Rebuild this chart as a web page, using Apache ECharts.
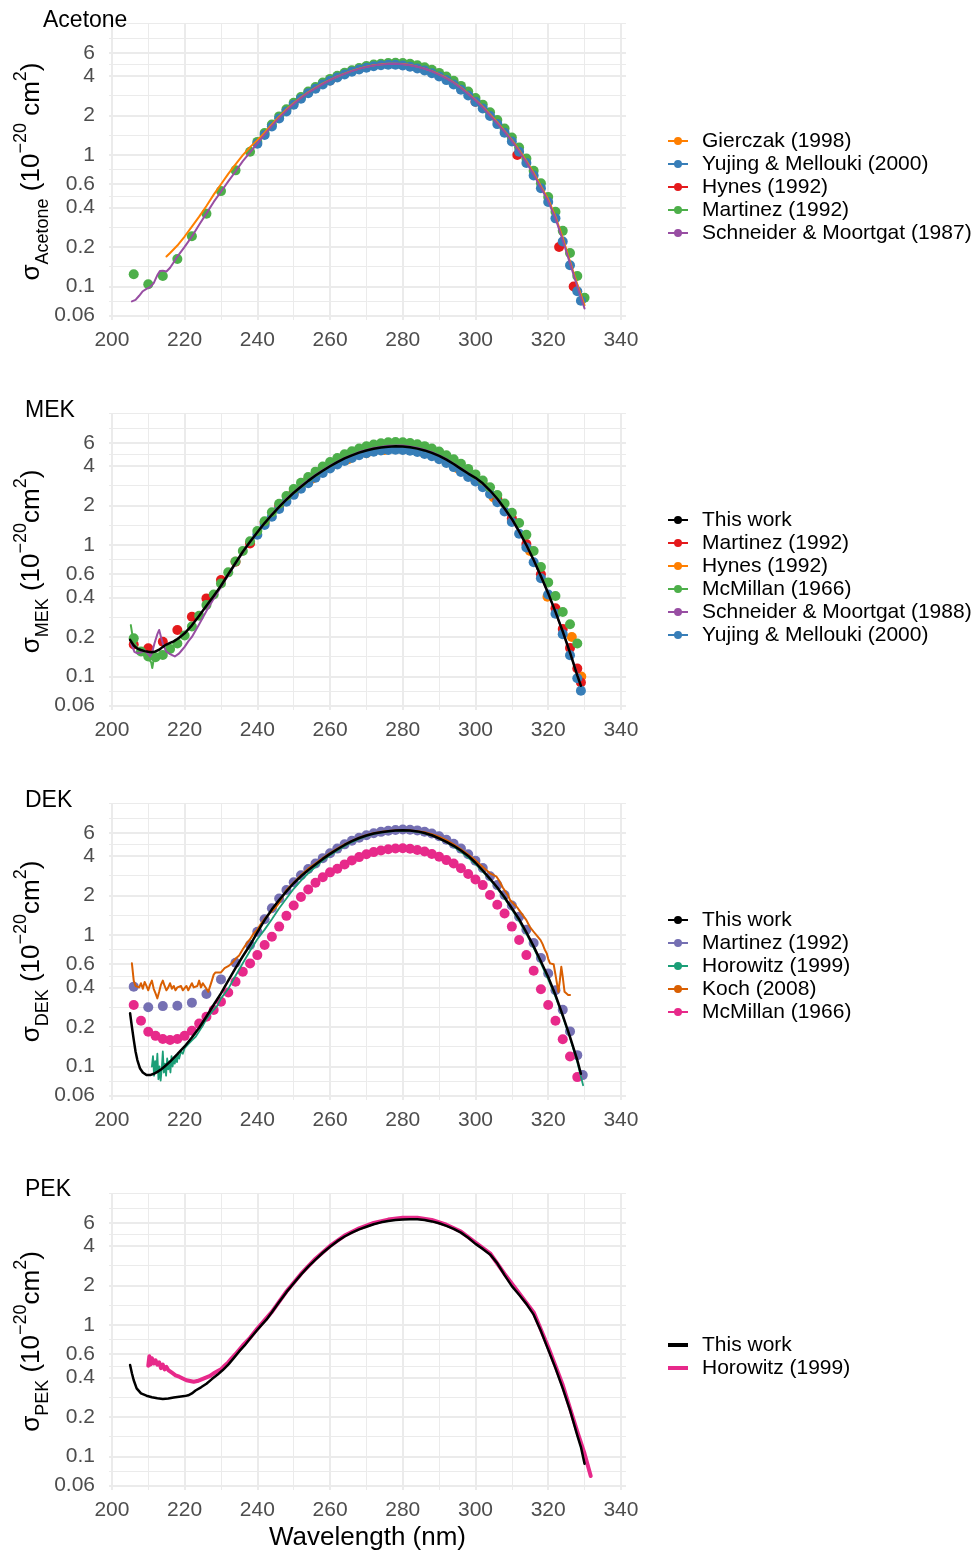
<!DOCTYPE html>
<html><head><meta charset="utf-8">
<script src="https://cdn.jsdelivr.net/npm/echarts@6/dist/echarts.min.js"></script>
<style>html,body{margin:0;padding:0;background:#fff}#c{width:979px;height:1550px}</style>
</head><body><div id="c"></div>
<script>
// ---------- tick labels ----------
const xTicks = [200, 220, 240, 260, 280, 300, 320, 340];
const xMinorTicks = [210, 230, 250, 270, 290, 310, 330];
const yTickVals = [0.06, 0.1, 0.2, 0.4, 0.6, 1, 2, 4, 6];
const yTickLabels = ['0.06', '0.1', '0.2', '0.4', '0.6', '1', '2', '4', '6'];
const panelTitles = ['Acetone', 'MEK', 'DEK', 'PEK'];

// ---------- Acetone ----------
const aceGierczak = [[215,0.169],[216,0.18],[218,0.205],[220,0.24],[222,0.285],[224,0.34],[226,0.41],[228,0.5],[230,0.6],[232,0.72],[234,0.85],[236,1.0],[238,1.15],[240,1.3],[242,1.48],[244,1.71],[246,1.96],[248,2.22],[250,2.48],[252,2.74],[254,3.0],[256,3.25],[258,3.5],[260,3.74],[262,3.96],[264,4.17],[266,4.37],[268,4.55],[270,4.7],[272,4.82],[274,4.9],[276,4.95],[278,4.96],[280,4.93],[282,4.84],[284,4.71],[286,4.55],[288,4.35],[290,4.12],[292,3.86],[294,3.57],[296,3.26],[298,2.94],[300,2.63],[302,2.33],[304,2.04],[306,1.77],[308,1.52],[310,1.3],[312,1.09],[314,0.9],[316,0.73],[318,0.58],[320,0.46],[322,0.34],[324,0.235],[326,0.155],[328,0.104],[330,0.072]];
const aceYujing = [[240,1.22],[242,1.42],[244,1.65],[246,1.9],[248,2.15],[250,2.42],[252,2.68],[254,2.95],[256,3.2],[258,3.45],[260,3.68],[262,3.9],[264,4.1],[266,4.3],[268,4.48],[270,4.62],[272,4.74],[274,4.82],[276,4.86],[278,4.86],[280,4.8],[282,4.7],[284,4.56],[286,4.4],[288,4.2],[290,3.97],[292,3.72],[294,3.44],[296,3.14],[298,2.84],[300,2.54],[302,2.26],[304,1.98],[306,1.72],[308,1.48],[310,1.27],[312,1.06],[314,0.87],[316,0.7],[318,0.56],[320,0.44],[322,0.33],[324,0.22],[326,0.145],[328,0.092],[329,0.078]];
const aceHynes = [[260,3.7],[270,4.7],[280,4.85],[290,4.05],[300,2.55],[311.5,1.0],[323,0.2],[327,0.1]];
const aceMartinez = [[206,0.124],[210,0.104],[214,0.12],[218,0.162],[222,0.241],[226,0.358],[230,0.532],[234,0.765],[238,1.06],[240,1.26],[242,1.47],[244,1.71],[246,1.97],[248,2.23],[250,2.5],[252,2.77],[254,3.05],[256,3.3],[258,3.56],[260,3.8],[262,4.02],[264,4.23],[266,4.42],[268,4.6],[270,4.76],[272,4.88],[274,4.96],[276,5.02],[278,5.04],[280,5.02],[282,4.95],[284,4.82],[286,4.66],[288,4.46],[290,4.22],[292,3.96],[294,3.67],[296,3.36],[298,3.04],[300,2.72],[302,2.42],[304,2.12],[306,1.85],[308,1.59],[310,1.36],[312,1.14],[314,0.94],[316,0.76],[318,0.61],[320,0.48],[322,0.37],[324,0.265],[326,0.18],[328,0.12],[330,0.082]];
const aceSchneider = [[205.5,0.077],[206.5,0.079],[207.5,0.085],[208.5,0.092],[209.5,0.096],[210.5,0.099],[211.5,0.106],[212.5,0.122],[213.2,0.131],[214,0.132],[215,0.13],[216,0.139],[217,0.153],[218,0.169],[220,0.2],[222,0.24],[224,0.295],[226,0.36],[228,0.44],[230,0.526],[232,0.63],[234,0.75],[236,0.9],[238,1.05],[240,1.23],[242,1.43],[244,1.67],[246,1.92],[248,2.18],[250,2.45],[252,2.72],[254,2.98],[256,3.22],[258,3.47],[260,3.72],[262,3.95],[264,4.15],[266,4.35],[268,4.53],[270,4.68],[272,4.8],[274,4.88],[276,4.93],[278,4.95],[280,4.92],[282,4.83],[284,4.7],[286,4.54],[288,4.34],[290,4.1],[292,3.84],[294,3.55],[296,3.24],[298,2.92],[300,2.6],[302,2.3],[304,2.0],[306,1.74],[308,1.5],[310,1.28],[312,1.07],[314,0.88],[316,0.71],[318,0.565],[320,0.445],[322,0.33],[324,0.225],[326,0.15],[328,0.1],[330,0.068]];

// ---------- MEK ----------
const mekThisWork = [[205,0.19],[206,0.172],[207,0.163],[208,0.159],[209,0.156],[210,0.154],[211,0.153],[212,0.155],[213,0.16],[214,0.168],[215,0.175],[216,0.18],[217,0.185],[218,0.193],[219,0.202],[220,0.213],[222,0.245],[224,0.29],[226,0.345],[228,0.41],[230,0.49],[232,0.6],[234,0.73],[236,0.89],[238,1.06],[240,1.25],[242,1.47],[244,1.7],[246,1.95],[248,2.22],[250,2.5],[252,2.78],[254,3.08],[256,3.38],[258,3.68],[260,3.98],[262,4.28],[264,4.56],[266,4.82],[268,5.05],[270,5.25],[272,5.4],[274,5.52],[276,5.6],[278,5.64],[280,5.63],[282,5.55],[284,5.42],[286,5.25],[288,5.03],[290,4.77],[292,4.47],[294,4.14],[296,3.8],[298,3.5],[300,3.25],[302,2.95],[304,2.6],[306,2.25],[308,1.9],[310,1.58],[312,1.27],[314,1.0],[316,0.77],[318,0.58],[320,0.43],[322,0.31],[324,0.22],[326,0.152],[328,0.102],[329,0.085]];
const mekMartinez = [[206,0.175],[210,0.164],[214,0.184],[218,0.226],[222,0.285],[226,0.393],[230,0.542],[234,0.746],[238,1.03],[242,1.48],[246,1.98],[250,2.55],[254,3.15],[258,3.75],[262,4.35],[266,4.9],[270,5.3],[274,5.55],[278,5.65],[282,5.55],[286,5.25],[290,4.75],[294,4.15],[298,3.5],[302,2.9],[306,2.25],[310,1.6],[314,1.02],[318,0.6],[322,0.33],[324,0.23],[326,0.165],[328,0.115],[329,0.09]];
const mekHynes = [[250,2.45],[255,3.2],[260,3.9],[265,4.5],[270,5.0],[275,5.3],[280,5.35],[285,5.15],[290,4.6],[295,3.85],[300,3.1],[305,2.3],[310,1.55],[315,0.9],[319.8,0.405],[326.5,0.2],[329.1,0.1]];
const mekMcMillan = [[206,0.195],[208,0.155],[210,0.142],[212,0.14],[214,0.146],[216,0.162],[218,0.178],[220,0.205],[222,0.24],[224,0.29],[226,0.35],[228,0.42],[230,0.51],[232,0.62],[234,0.75],[236,0.9],[238,1.07],[240,1.28],[242,1.52],[244,1.78],[246,2.06],[248,2.36],[250,2.67],[252,2.98],[254,3.3],[256,3.62],[258,3.96],[260,4.28],[262,4.6],[264,4.9],[266,5.18],[268,5.43],[270,5.65],[272,5.82],[274,5.95],[276,6.05],[278,6.08],[280,6.05],[282,5.97],[284,5.84],[286,5.66],[288,5.43],[290,5.15],[292,4.83],[294,4.5],[296,4.15],[298,3.8],[300,3.45],[302,3.1],[304,2.75],[306,2.4],[308,2.07],[310,1.76],[312,1.47],[314,1.2],[316,0.9],[318,0.68],[320,0.52],[322,0.41],[324,0.31],[326,0.25],[328,0.178]];
const mekMcMillanLine = [[205.2,0.246],[205.6,0.21],[206,0.19],[206.5,0.175],[207,0.165],[207.5,0.158],[208,0.152],[208.5,0.147],[209,0.143],[209.5,0.14],[210,0.137],[210.5,0.134],[210.8,0.128],[211.1,0.116],[211.4,0.13],[211.7,0.138],[212,0.14],[212.5,0.142],[213,0.145],[213.5,0.147],[214,0.15]];
const mekSchneider = [[205.3,0.178],[206.2,0.154],[207,0.15],[208,0.153],[209,0.157],[210,0.148],[210.5,0.142],[211,0.15],[211.7,0.178],[212.5,0.21],[213,0.226],[213.5,0.2],[214,0.178],[214.9,0.155],[216,0.148],[217.3,0.142],[218.5,0.15],[219.1,0.157],[220,0.168],[221,0.185],[222,0.2],[224,0.25],[226,0.315],[228,0.39],[230,0.48],[232,0.59],[234,0.72],[236,0.88],[238,1.05],[240,1.25],[244,1.72],[248,2.25],[252,2.82],[256,3.42],[260,4.03],[264,4.6],[268,5.1],[272,5.48],[276,5.7],[280,5.72],[284,5.5],[288,5.1],[292,4.52],[296,3.83],[300,3.25],[304,2.6],[308,1.88],[312,1.27],[316,0.77],[320,0.43],[324,0.22],[328,0.105],[329,0.085]];
const mekYujing = [[240,1.2],[242,1.42],[244,1.64],[246,1.88],[248,2.14],[250,2.41],[252,2.68],[254,2.96],[256,3.25],[258,3.54],[260,3.83],[262,4.1],[264,4.36],[266,4.6],[268,4.82],[270,5.0],[272,5.14],[274,5.24],[276,5.3],[278,5.32],[280,5.3],[282,5.23],[284,5.1],[286,4.94],[288,4.74],[290,4.5],[292,4.22],[294,3.92],[296,3.6],[298,3.3],[300,3.05],[302,2.75],[304,2.45],[306,2.12],[308,1.8],[310,1.5],[312,1.22],[314,0.96],[316,0.74],[318,0.56],[320,0.42],[322,0.3],[324,0.21],[326,0.145],[328,0.097],[329,0.078]];

// ---------- DEK ----------
const dekThisWork = [[205,0.254],[205.5,0.2],[206,0.16],[206.5,0.13],[207,0.112],[207.7,0.097],[208.5,0.09],[209.5,0.086],[210.5,0.086],[211.5,0.088],[212.5,0.091],[213.5,0.095],[214.5,0.1],[216,0.109],[218,0.124],[220,0.142],[222,0.166],[224,0.197],[226,0.24],[228,0.295],[230,0.36],[232,0.45],[234,0.56],[236,0.69],[238,0.84],[240,1.05],[242,1.3],[244,1.57],[246,1.85],[248,2.15],[250,2.48],[252,2.8],[254,3.12],[256,3.45],[258,3.8],[260,4.15],[262,4.5],[264,4.85],[266,5.18],[268,5.48],[270,5.72],[272,5.92],[274,6.07],[276,6.17],[278,6.24],[280,6.27],[282,6.24],[284,6.15],[286,5.98],[288,5.75],[290,5.45],[292,5.12],[294,4.78],[296,4.4],[298,4.0],[300,3.55],[302,3.1],[304,2.68],[306,2.3],[308,1.94],[310,1.6],[312,1.32],[314,1.05],[316,0.82],[318,0.63],[320,0.48],[322,0.35],[324,0.245],[326,0.168],[328,0.112],[329,0.088]];
const dekMartinez = [[206,0.405],[210,0.282],[214,0.288],[218,0.29],[222,0.306],[226,0.356],[230,0.46],[234,0.616],[238,0.84],[240,1.06],[242,1.32],[244,1.6],[246,1.9],[248,2.2],[250,2.52],[252,2.85],[254,3.18],[256,3.5],[258,3.85],[260,4.2],[262,4.55],[264,4.9],[266,5.22],[268,5.5],[270,5.75],[272,5.95],[274,6.1],[276,6.22],[278,6.3],[280,6.35],[282,6.33],[284,6.26],[286,6.12],[288,5.92],[290,5.65],[292,5.32],[294,4.95],[296,4.55],[298,4.12],[300,3.68],[302,3.24],[304,2.8],[306,2.4],[308,2.02],[310,1.68],[312,1.38],[314,1.1],[316,0.87],[318,0.67],[320,0.51],[322,0.38],[324,0.27],[326,0.185],[328,0.122],[329.5,0.086]];
const dekMcMillan = [[206,0.294],[208,0.223],[210,0.184],[212,0.171],[214,0.162],[216,0.159],[218,0.162],[220,0.171],[222,0.187],[224,0.212],[226,0.239],[228,0.269],[230,0.311],[232,0.366],[234,0.442],[236,0.526],[238,0.609],[240,0.704],[242,0.84],[244,0.97],[246,1.16],[248,1.4],[250,1.68],[252,1.95],[254,2.22],[256,2.5],[258,2.75],[260,3.0],[262,3.2],[264,3.45],[266,3.7],[268,3.92],[270,4.12],[272,4.28],[274,4.4],[276,4.5],[278,4.56],[280,4.58],[282,4.54],[284,4.44],[286,4.32],[288,4.14],[290,3.94],[292,3.72],[294,3.5],[296,3.22],[298,2.92],[300,2.65],[302,2.4],[304,2.02],[306,1.7],[308,1.46],[310,1.16],[312,0.916],[314,0.704],[316,0.536],[318,0.387],[320,0.294],[322,0.223],[324,0.161],[326,0.119],[328,0.083]];
const dekKoch = [[205.5,0.61],[206,0.45],[206.5,0.41],[207,0.42],[207.5,0.4],[208,0.43],[208.5,0.39],[209,0.44],[209.5,0.41],[210,0.38],[210.5,0.42],[211,0.45],[211.5,0.39],[212,0.36],[212.5,0.33],[213,0.37],[213.5,0.42],[214,0.45],[214.5,0.41],[215,0.38],[215.5,0.4],[216,0.43],[216.5,0.39],[217,0.41],[217.5,0.38],[218,0.4],[218.5,0.39],[219,0.41],[219.5,0.38],[220,0.39],[220.5,0.41],[221,0.38],[221.5,0.39],[222,0.43],[222.5,0.4],[223,0.39],[223.5,0.41],[224,0.45],[224.5,0.4],[225,0.43],[225.5,0.41],[226,0.39],[226.5,0.37],[227,0.38],[227.5,0.45],[228,0.5],[228.5,0.52],[229,0.51],[230,0.52],[231,0.56],[232,0.58],[233,0.61],[234,0.66],[235,0.7],[236,0.78],[237,0.86],[238,0.93],[239,1.03],[240,1.1],[241,1.22],[242,1.33],[243,1.42],[244,1.52],[245,1.62],[246,1.76],[248,2.2],[250,2.5],[252,2.85],[254,3.2],[256,3.5],[258,3.85],[260,4.2],[262,4.55],[264,4.9],[266,5.2],[268,5.5],[270,5.75],[272,5.95],[274,6.1],[276,6.2],[278,6.25],[280,6.28],[282,6.25],[284,6.18],[286,6.05],[288,5.85],[290,5.6],[292,5.28],[294,4.9],[296,4.5],[298,4.1],[300,3.7],[302,3.3],[304,2.95],[305.8,2.78],[306.5,2.6],[307.5,2.3],[308,2.25],[309,2.0],[309.5,1.85],[310,1.8],[311,1.68],[311.5,1.62],[312,1.55],[313,1.42],[314,1.3],[314.5,1.22],[315,1.15],[316,1.06],[317,0.98],[317.9,0.916],[318.5,0.85],[319,0.78],[319.6,0.726],[320,0.66],[320.5,0.609],[321,0.61],[321.5,0.6],[322,0.5],[322.8,0.37],[323.2,0.45],[323.6,0.574],[324,0.48],[324.5,0.37],[325,0.36],[325.5,0.35],[326,0.35]];
const dekHorowitz = [[211,0.1],[211.3,0.12],[211.6,0.085],[211.9,0.11],[212.2,0.09],[212.5,0.125],[212.8,0.08],[213.1,0.1],[213.4,0.078],[213.7,0.095],[214,0.13],[214.3,0.09],[214.6,0.105],[214.9,0.085],[215.2,0.115],[215.5,0.095],[215.8,0.11],[216.1,0.09],[216.4,0.12],[216.7,0.1],[217,0.115],[217.3,0.105],[217.6,0.12],[217.9,0.108],[218.2,0.125],[218.5,0.115],[219,0.13],[219.5,0.125],[220,0.138],[220.5,0.135],[221,0.148],[221.5,0.145],[222,0.158],[222.5,0.155],[223,0.168],[224,0.185],[225,0.205],[226,0.23],[227,0.25],[228,0.27],[229,0.29],[230,0.33],[232,0.39],[234,0.49],[236,0.61],[238,0.76],[240,0.93],[242,1.1],[244,1.32],[246,1.6],[248,1.9],[250,2.25],[252,2.6],[254,2.95],[256,3.3],[258,3.7],[260,4.05],[262,4.4],[264,4.75],[266,5.1],[268,5.4],[270,5.66],[272,5.88],[274,6.03],[276,6.13],[278,6.2],[280,6.22],[282,6.2],[284,6.1],[286,5.95],[288,5.72],[290,5.42],[292,5.08],[294,4.7],[296,4.3],[298,3.88],[300,3.46],[302,3.04],[304,2.64],[306,2.26],[308,1.9],[310,1.57],[312,1.28],[314,1.02],[316,0.8],[318,0.61],[320,0.46],[322,0.34],[324,0.24],[326,0.165],[328,0.108],[329.6,0.072]];

// ---------- PEK ----------
const pekThisWork = [[205,0.496],[205.5,0.43],[206,0.38],[206.8,0.33],[208,0.302],[209.5,0.29],[211,0.282],[212.5,0.277],[214,0.274],[215.5,0.276],[217,0.281],[218.5,0.285],[220,0.288],[221,0.292],[222,0.302],[223,0.318],[224.5,0.336],[226,0.358],[227.5,0.388],[229,0.418],[230.5,0.455],[232,0.5],[233.5,0.56],[235,0.63],[236.5,0.7],[238,0.79],[239.5,0.885],[241,0.99],[242.5,1.1],[244,1.25],[246,1.5],[248,1.78],[250,2.08],[252,2.42],[254,2.78],[256,3.15],[258,3.55],[260,3.95],[262,4.35],[264,4.72],[266,5.05],[268,5.35],[270,5.6],[272,5.85],[274,6.05],[276,6.2],[278,6.3],[280,6.37],[282,6.4],[284,6.38],[286,6.3],[288,6.15],[290,5.95],[292,5.68],[294,5.4],[296,5.05],[298,4.62],[300,4.15],[302,3.8],[304,3.45],[306,2.95],[308,2.4],[310,1.98],[312,1.7],[314,1.45],[316,1.2],[318,0.9],[320,0.65],[322,0.47],[324,0.33],[326,0.225],[328,0.145],[329,0.118],[330,0.088]];
const pekHorowitz = [[210,0.49],[210.3,0.58],[210.6,0.5],[211,0.56],[211.5,0.51],[212,0.54],[212.5,0.5],[213,0.52],[213.5,0.47],[214,0.5],[214.5,0.46],[215,0.48],[215.5,0.455],[216,0.45],[216.5,0.435],[217,0.43],[217.5,0.415],[218,0.41],[218.5,0.405],[219,0.4],[219.5,0.392],[220,0.39],[220.5,0.38],[221,0.385],[221.5,0.375],[222,0.38],[222.5,0.37],[223,0.38],[223.5,0.375],[224,0.385],[225,0.39],[226,0.4],[227,0.41],[228,0.43],[229,0.445],[230,0.46],[231,0.49],[232,0.52],[233,0.56],[234,0.6],[236,0.7],[238,0.8],[240,0.94],[244,1.26],[248,1.8],[252,2.45],[256,3.2],[260,4.0],[264,4.8],[268,5.45],[272,5.98],[276,6.35],[280,6.55],[284,6.55],[288,6.3],[292,5.8],[296,5.15],[300,4.25],[304,3.52],[308,2.45],[312,1.75],[316,1.25],[320,0.68],[324,0.35],[328,0.155],[330,0.105],[331.7,0.071]];

// ---------- build ----------
const FONT = 'Liberation Sans';
const XMIN = 199.2, XMAX = 341.4, YMIN = -1.255, YMAX = 1.005;
const DOT = 10;
const yMajorLog = yTickVals.map(v => Math.log10(v));
function minorOf(b, lo, hi) {
  const bd = b[1] - b[0];
  const bb = b.slice();
  if (lo < bb[0]) bb.unshift(bb[0] - bd);
  if (hi > bb[bb.length - 1]) bb.push(bb[bb.length - 1] + bd);
  const out = [];
  for (let i = 0; i < bb.length - 1; i++) out.push((bb[i] + bb[i + 1]) / 2);
  out.push(bb[bb.length - 1]);
  return out.filter(v => v >= lo && v <= hi && !b.some(m => Math.abs(m - v) < 1e-9));
}
const yMinorLog = minorOf(yMajorLog, YMIN, YMAX);
const toLog = d => d.map(p => [p[0], Math.log10(p[1])]);
function yLabel(v) {
  for (let i = 0; i < yMajorLog.length; i++) if (Math.abs(yMajorLog[i] - v) < 1e-6) return yTickLabels[i];
  return '';
}

const panelTop = [23, 413, 803, 1193];
const GRID_H = 297;
const legendTop = [129.5, 508.5, 908.5, 1333.5];
const titleTop = [9, 399, 789, 1178];
const titleLeft = [43, 25, 25, 25];
const subNames = ['Acetone', 'MEK', 'DEK', 'PEK'];
const cmSpace = [' ', '', '', ''];

const series = [];
function lineS(p, name, data, color, width) {
  series.push({ type: 'line', name: p + '|' + name, xAxisIndex: 2 * p, yAxisIndex: 2 * p,
    data: toLog(data), symbol: 'none', showSymbol: false, smooth: false,
    lineStyle: { color, width, cap: 'round', join: 'round' }, itemStyle: { color }, silent: true });
}
function dotS(p, name, data, color) {
  series.push({ type: 'scatter', name: p + '|' + name, xAxisIndex: 2 * p, yAxisIndex: 2 * p,
    data: toLog(data), symbol: 'circle', symbolSize: DOT, itemStyle: { color, opacity: 1 }, silent: true });
}

// Panel 0: Acetone
dotS(0, 'Hynes (1992)', aceHynes, '#E41A1C');
dotS(0, 'Martinez (1992)', aceMartinez, '#4DAF4A');
dotS(0, 'Yujing & Mellouki (2000)', aceYujing, '#377EB8');
lineS(0, 'Gierczak (1998)', aceGierczak, '#FF7F00', 2);
lineS(0, 'Schneider & Moortgat (1987)', aceSchneider, '#984EA3', 2);
// Panel 1: MEK
dotS(1, 'Hynes (1992)', mekHynes, '#FF7F00');
dotS(1, 'Martinez (1992)', mekMartinez, '#E41A1C');
dotS(1, 'Yujing & Mellouki (2000)', mekYujing, '#377EB8');
dotS(1, 'McMillan (1966)', mekMcMillan, '#4DAF4A');
lineS(1, 'McMillan (1966)', mekMcMillanLine, '#4DAF4A', 2);
lineS(1, 'Schneider & Moortgat (1988)', mekSchneider, '#984EA3', 2);
lineS(1, 'This work', mekThisWork, '#000000', 2.5);
// Panel 2: DEK
dotS(2, 'Martinez (1992)', dekMartinez, '#7570B3');
dotS(2, 'McMillan (1966)', dekMcMillan, '#E7298A');
lineS(2, 'Koch (2008)', dekKoch, '#D95F02', 2);
lineS(2, 'Horowitz (1999)', dekHorowitz, '#1B9E77', 1.8);
lineS(2, 'This work', dekThisWork, '#000000', 2.5);
// Panel 3: PEK
lineS(3, 'Horowitz (1999)', pekHorowitz, '#E7298A', 4);
lineS(3, 'This work', pekThisWork, '#000000', 2.5);

const legendNames = [
  ['Gierczak (1998)', 'Yujing & Mellouki (2000)', 'Hynes (1992)', 'Martinez (1992)', 'Schneider & Moortgat (1987)'],
  ['This work', 'Martinez (1992)', 'Hynes (1992)', 'McMillan (1966)', 'Schneider & Moortgat (1988)', 'Yujing & Mellouki (2000)'],
  ['This work', 'Martinez (1992)', 'Horowitz (1999)', 'Koch (2008)', 'McMillan (1966)'],
  ['This work', 'Horowitz (1999)']
];
const ICON_LD = 'path://M0,4L20,4L20,6L0,6Z M14,5A4,4,0,1,1,6,5A4,4,0,1,1,14,5Z';

const grids = [], xAxes = [], yAxes = [], legends = [], titles = [];
for (let p = 0; p < 4; p++) {
  grids.push({ left: 109, width: 517, top: panelTop[p], height: GRID_H, containLabel: false, outerBoundsMode: 'none' });
  xAxes.push({ type: 'value', gridIndex: p, min: XMIN, max: XMAX,
    axisLine: { show: false, onZero: false }, axisTick: { show: false, customValues: xTicks },
    axisLabel: { customValues: xTicks, color: '#4D4D4D', fontSize: 21, fontFamily: FONT, margin: 10 },
    splitLine: { show: true, lineStyle: { color: '#EBEBEB', width: 2 } },
    name: p === 3 ? 'Wavelength (nm)' : '', nameLocation: 'middle', nameGap: 33,
    nameTextStyle: { fontSize: 26, color: '#000', fontFamily: FONT, lineHeight: 30 } });
  xAxes.push({ type: 'value', gridIndex: p, min: XMIN, max: XMAX, position: 'bottom',
    axisLine: { show: false, onZero: false }, axisTick: { show: false, customValues: xMinorTicks },
    axisLabel: { show: false }, splitLine: { show: true, lineStyle: { color: '#EBEBEB', width: 1 } } });
  const nm = '{m|σ}{sub|' + subNames[p] + '}{m| (10}{sup|−20}{m|' + cmSpace[p] + 'cm}{sup|2}{m|)}';
  yAxes.push({ type: 'value', gridIndex: p, min: YMIN, max: YMAX,
    axisLine: { show: false, onZero: false }, axisTick: { show: false, customValues: yMajorLog },
    axisLabel: { customValues: yMajorLog, formatter: yLabel, color: '#4D4D4D', fontSize: 21, fontFamily: FONT, margin: 14 },
    splitLine: { show: true, lineStyle: { color: '#EBEBEB', width: 2 } },
    name: nm, nameLocation: 'middle', nameRotate: 90, nameGap: 57, nameMoveOverlap: false,
    nameTextStyle: { fontFamily: FONT, color: '#000', fontSize: 26,
      rich: {
        m: { fontSize: 26, lineHeight: 40, verticalAlign: 'middle', fontFamily: FONT, color: '#000' },
        sub: { fontSize: 18, lineHeight: 25, verticalAlign: 'bottom', fontFamily: FONT, color: '#000' },
        sup: { fontSize: 18, lineHeight: 12, verticalAlign: 'top', fontFamily: FONT, color: '#000' }
      } } });
  yAxes.push({ type: 'value', gridIndex: p, min: YMIN, max: YMAX,
    axisLine: { show: false, onZero: false }, axisTick: { show: false, customValues: yMinorLog },
    axisLabel: { show: false }, splitLine: { show: true, lineStyle: { color: '#EBEBEB', width: 1 } } });
  const isLast = p === 3;
  legends.push({ orient: 'vertical', left: 668, top: legendTop[p], padding: 0, itemGap: 0,
    itemWidth: 20, itemHeight: isLast ? 4 : 8, selectedMode: false,
    data: legendNames[p].map(n => ({ name: p + '|' + n, icon: isLast ? 'rect' : ICON_LD })),
    formatter: n => n.split('|')[1],
    itemStyle: { borderWidth: 0 },
    textStyle: { fontSize: 21, color: '#000', fontFamily: FONT, lineHeight: 23, padding: [0, 0, 0, 9] } });
  titles.push({ text: panelTitles[p], left: titleLeft[p], top: titleTop[p], padding: 0,
    textStyle: { fontSize: 23, fontWeight: 'normal', color: '#000', fontFamily: FONT, lineHeight: 24 } });
}

const chart = echarts.init(document.getElementById('c'), null, { renderer: 'canvas' });
chart.setOption({
  animation: false, backgroundColor: '#ffffff',
  textStyle: { fontFamily: FONT },
  title: titles, grid: grids, xAxis: xAxes, yAxis: yAxes, legend: legends, series
});
</script></body></html>
